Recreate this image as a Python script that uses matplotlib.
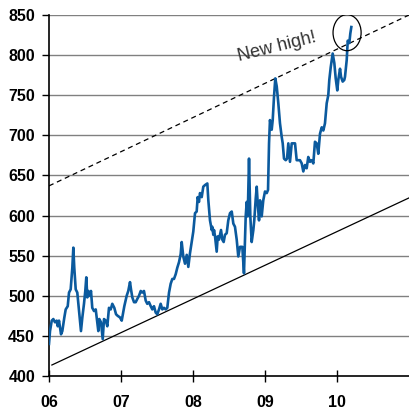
import numpy as np
import matplotlib.pyplot as plt
from matplotlib.patches import Ellipse

plt.rcParams['font.family'] = ['Liberation Sans', 'DejaVu Sans']

# weekly-ish price series (years after 2006, value)
year_offsets = [
    0.000, 0.014, 0.038, 0.060, 0.083, 0.107, 0.121, 0.139, 0.167, 0.185,
    0.213, 0.232, 0.260, 0.278, 0.301, 0.324, 0.338, 0.351, 0.371, 0.393,
    0.417, 0.444, 0.463, 0.486, 0.504, 0.518, 0.532, 0.546, 0.569, 0.583,
    0.601, 0.625, 0.649, 0.671, 0.685, 0.699, 0.722, 0.746, 0.764, 0.788,
    0.810, 0.833, 0.857, 0.879, 0.907, 0.931, 0.954, 0.986, 1.010, 1.046,
    1.079, 1.101, 1.125, 1.139, 1.157, 1.181, 1.204, 1.226, 1.250, 1.274,
    1.296, 1.319, 1.343, 1.365, 1.389, 1.413, 1.435, 1.458, 1.482, 1.504,
    1.528, 1.551, 1.574, 1.597, 1.621, 1.643, 1.667, 1.690, 1.713, 1.736,
    1.760, 1.782, 1.806, 1.829, 1.843, 1.865, 1.889, 1.913, 1.935, 1.958,
    1.982, 2.004, 2.028, 2.051, 2.065, 2.083, 2.097, 2.121, 2.143, 2.167,
    2.199, 2.213, 2.236, 2.260, 2.268, 2.282, 2.292, 2.306, 2.329, 2.343,
    2.361, 2.389, 2.407, 2.426, 2.444, 2.468, 2.490, 2.514, 2.538, 2.560,
    2.583, 2.607, 2.629, 2.653, 2.685, 2.708, 2.732, 2.746, 2.760, 2.778,
    2.796, 2.815, 2.838, 2.851, 2.871, 2.885, 2.899, 2.917, 2.931, 2.954,
    2.976, 3.000, 3.024, 3.042, 3.056, 3.069, 3.093, 3.107, 3.125, 3.143,
    3.163, 3.185, 3.208, 3.232, 3.246, 3.264, 3.288, 3.306, 3.324, 3.347,
    3.371, 3.417, 3.440, 3.486, 3.510, 3.532, 3.556, 3.579, 3.601, 3.625,
    3.649, 3.671, 3.694, 3.718, 3.740, 3.764, 3.788, 3.810, 3.833, 3.857,
    3.879, 3.893, 3.913, 3.940, 3.963, 3.982, 4.004, 4.018, 4.042, 4.056,
    4.079, 4.101, 4.111, 4.135, 4.149, 4.171, 4.185, 4.199,
]
prices = [
    440, 456, 469, 471, 467, 469, 462, 469, 452, 456,
    473, 483, 487, 504, 508, 535, 560, 535, 508, 504,
    481, 456, 473, 490, 506, 523, 498, 506, 500, 506,
    485, 481, 483, 467, 456, 471, 467, 446, 471, 469,
    462, 485, 483, 490, 485, 477, 475, 473, 469, 487,
    500, 506, 517, 508, 498, 492, 492, 496, 500, 506,
    504, 506, 494, 490, 492, 487, 483, 487, 479, 477,
    483, 490, 483, 485, 483, 485, 504, 515, 521, 521,
    527, 535, 542, 552, 567, 549, 540, 551, 536, 553,
    567, 580, 603, 605, 623, 617, 628, 623, 636, 638,
    640, 619, 594, 582, 586, 576, 582, 574, 555, 574,
    570, 582, 570, 567, 576, 578, 594, 603, 605, 590,
    586, 570, 549, 561, 561, 528, 599, 617, 599, 671,
    599, 567, 582, 594, 621, 636, 615, 594, 619, 599,
    619, 630, 628, 632, 690, 719, 707, 719, 748, 771,
    761, 740, 715, 698, 690, 671, 669, 671, 690, 667,
    690, 690, 669, 669, 665, 655, 663, 659, 673, 667,
    669, 665, 692, 690, 677, 702, 710, 706, 715, 740,
    750, 769, 785, 802, 790, 771, 756, 769, 783, 773,
    767, 769, 773, 794, 818, 815, 827, 835,
]
years = 2006 + np.array(year_offsets)

# trend channel end points (year, value)
support_x = [2006.04, 2011.0]
support_y = [413.7, 622.0]
resist_x = [2006.0, 2011.0]
resist_y = [637.0, 850.0]

x_ticks = [2006, 2007, 2008, 2009, 2010]
x_labels = ["06", "07", "08", "09", "10"]
y_ticks = list(range(400, 851, 50))

fig = plt.figure(figsize=(4.09, 4.09), dpi=100)
ax = fig.add_axes([49 / 409, 33 / 409, 360 / 409, 361 / 409])

for v in y_ticks[1:]:
    ax.axhline(v, color="#808080", lw=1.0, zorder=1)

ax.plot(support_x, support_y, color="black", lw=0.9, zorder=2)
ax.plot(resist_x, resist_y, color="black", lw=0.9, ls=(0, (4, 3)), zorder=2)
ax.plot(years, prices, color="#0b5a9e", lw=1.9, zorder=3)

ax.add_patch(Ellipse((2010.14, 828), 0.39, 45, fill=False, ec="black", lw=0.9, zorder=4))
ax.text(2009.17, 810, "New high!", rotation=14, ha="center", va="center",
        fontsize=13, color="#333333")

ax.set_xlim(2006, 2011)
ax.set_ylim(400, 850)
ax.set_xticks(x_ticks)
ax.set_xticklabels(x_labels, fontweight="bold", fontsize=11.5)
ax.set_yticks(y_ticks)
ax.set_yticklabels([str(v) for v in y_ticks], fontweight="bold", fontsize=11.5)
ax.tick_params(axis="x", direction="inout", length=9, width=1, pad=9)
ax.tick_params(axis="y", direction="out", length=5, width=1, pad=5)
ax.spines["top"].set_visible(False)
ax.spines["right"].set_visible(False)
ax.spines["left"].set_linewidth(1.2)
ax.spines["bottom"].set_linewidth(1.2)

fig.savefig("out.png", dpi=100)
